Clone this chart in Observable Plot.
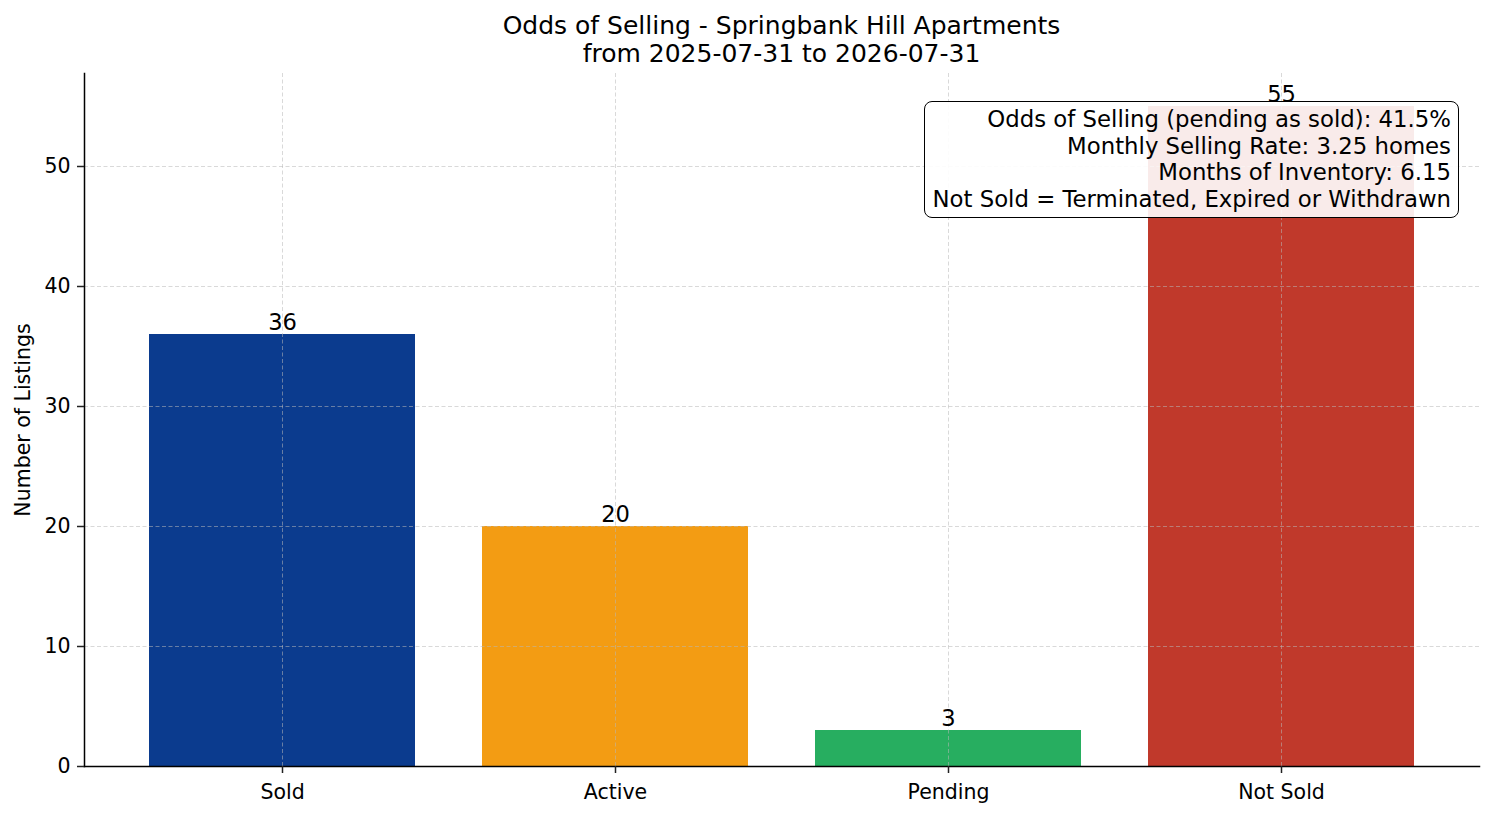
<!DOCTYPE html>
<html>
<head>
<meta charset="utf-8">
<script src="https://cdn.jsdelivr.net/npm/d3@7"></script>
<script src="https://cdn.jsdelivr.net/npm/@observablehq/plot@0.6"></script>
<style>
  body { margin: 0; background: #fff; font-family: "DejaVu Sans", sans-serif; }
  #wrap { position: relative; width: 1494px; height: 816px; }
  #title { box-sizing: border-box; width: 1494px; height: 66px; padding: 12px 15px 0 84px;
           text-align: center; font-size: 25px; line-height: 28px; color: #000; }
  #note { position: absolute; left: 924px; top: 101px; width: 535px; height: 117px; box-sizing: border-box;
          border: 1.6px solid #000; border-radius: 8px; background: rgba(255,255,255,0.9);
          text-align: right; font-size: 22.8px; line-height: 26.7px; padding: 4px 7px 0 0; color: #000; white-space: nowrap; }
</style>
</head>
<body>
<div id="wrap">
  <div id="title"></div>
  <div id="chart"></div>
  <div id="note"></div>
</div>
<script>
const titleLines = ["Odds of Selling - Springbank Hill Apartments", "from 2025-07-31 to 2026-07-31"];
const categories = ["Sold", "Active", "Pending", "Not Sold"];
const counts = [36, 20, 3, 55];
const barColors = ["#0b3b8e", "#f39c13", "#27ae60", "#c0392b"];
const yTicks = [0, 10, 20, 30, 40, 50];
const yLabel = "Number of Listings";
const noteLines = [
  "Odds of Selling (pending as sold): 41.5%",
  "Monthly Selling Rate: 3.25 homes",
  "Months of Inventory: 6.15",
  "Not Sold = Terminated, Expired or Withdrawn"
];

const data = categories.map((c, i) => ({category: c, count: counts[i], color: barColors[i]}));

document.getElementById("title").innerHTML =
  `<span style="display:block;line-height:28px">${titleLines[0]}</span><span style="display:block;line-height:28px">${titleLines[1]}</span>`;
document.getElementById("note").innerHTML = noteLines.map(t => `<div>${t}</div>`).join("");

const gridStyle = {stroke: "#b8b8b8", strokeOpacity: 0.6, strokeWidth: 0.9, strokeDasharray: "4,2.5"};

const chart = Plot.plot({
  width: 1494,
  height: 750,
  marginTop: 7,
  marginBottom: 50,
  marginLeft: 84,
  marginRight: 15,
  style: {fontFamily: "DejaVu Sans, sans-serif", fontSize: "20.5px", color: "#000", background: "#fff"},
  x: {type: "band", domain: categories, paddingInner: 0.2, paddingOuter: 0.19, label: null},
  y: {domain: [0, 57.75], label: null},
  marks: [
    Plot.barY(data, {x: "category", y: "count", fill: "color"}),
    Plot.ruleY(yTicks, {...gridStyle}),
    Plot.ruleX(categories, {x: d => d, ...gridStyle}),
    Plot.frame({anchor: "left", stroke: "#000", strokeWidth: 1.5}),
    Plot.frame({anchor: "bottom", stroke: "#000", strokeWidth: 1.5}),
    Plot.axisX({tickSize: 7, tickPadding: 11, fontSize: 20.5, stroke: "#222", strokeWidth: 1.5, label: null}),
    Plot.axisY({ticks: yTicks, tickSize: 7, tickPadding: 7, fontSize: 20.5, stroke: "#222", strokeWidth: 1.5, label: null}),
    Plot.text(data, {x: "category", y: "count", text: d => String(d.count), lineAnchor: "bottom", dy: -5, fontSize: 22.6, fill: "#000"}),
    Plot.text([yLabel], {frameAnchor: "left", text: d => d, rotate: -90, textAnchor: "middle", dx: -61, dy: 0, fontSize: 20.5, fill: "#000"})
  ]
});
document.getElementById("chart").appendChild(chart);
</script>
</body>
</html>
